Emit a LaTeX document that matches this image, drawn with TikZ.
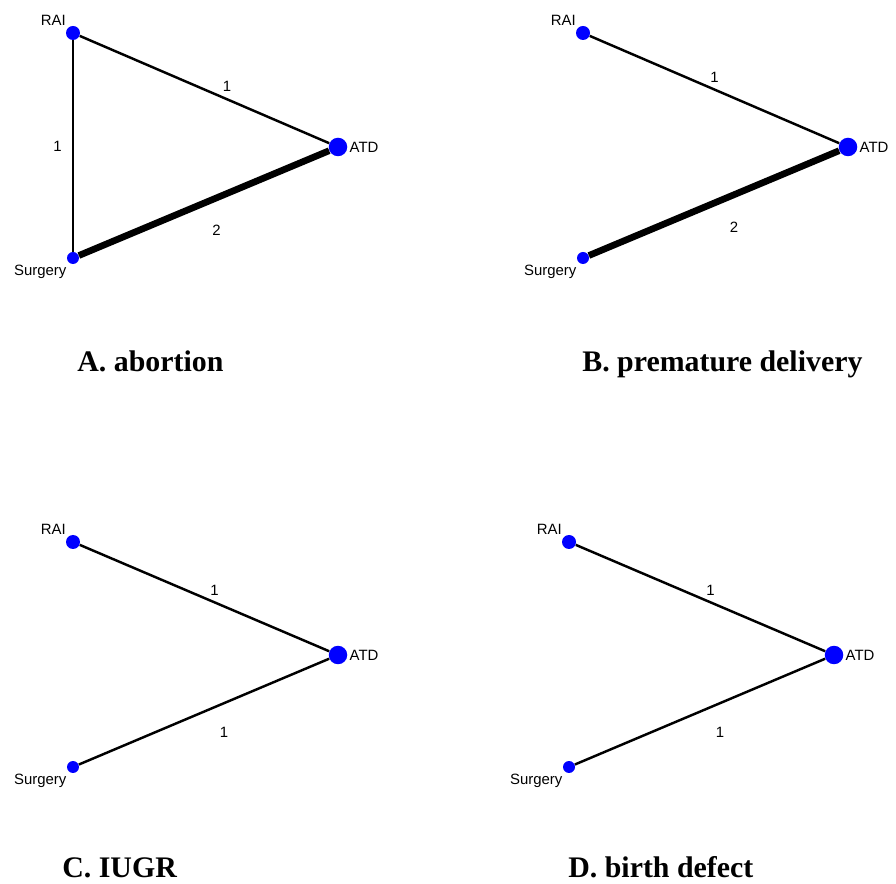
\documentclass[tikz,border=0pt]{standalone}
\usepackage{fontspec}
\setmainfont{Liberation Serif}
\setsansfont{Liberation Sans}
\usetikzlibrary{positioning}

\begin{document}
\begin{tikzpicture}[x=0.02cm,y=-0.02cm,
  dot/.style={circle,fill=blue,inner sep=0pt},
  raidot/.style={dot,minimum size=0.28cm},
  atddot/.style={dot,minimum size=0.37cm},
  surdot/.style={dot,minimum size=0.24cm},
  lbl/.style={font=\sffamily\fontsize{8.5}{10}\selectfont,inner sep=1pt},
  elbl/.style={font=\sffamily\fontsize{8.5}{10}\selectfont,inner sep=0pt},
  onearm/.style={line width=1.4pt},
  twoarm/.style={line width=3.8pt},
  caption/.style={font=\fontsize{17}{20}\selectfont\bfseries,
                  anchor=base west,inner sep=0pt}
]
  \useasboundingbox (0,0) rectangle (896,884);

  % ---- Panel A: abortion ---------------------------------------
  \node[raidot] (raiA) at (73,33) {};
  \node[atddot] (atdA) at (338,147) {};
  \node[surdot] (surA) at (73,258) {};
  \node[lbl,above left=0pt of raiA] (raiAt) {RAI};
  \node[lbl,right=0pt of atdA] (atdAt) {ATD};
  \node[lbl,below left=0pt of surA] (surAt) {Surgery};

  \draw[onearm] (raiA) -- node[elbl,pos=0.59,above=0.12cm] (eA1) {1} (atdA);
  \draw[onearm] (raiA) -- node[elbl,left=0.2cm] (eA2) {1} (surA);
  \draw[twoarm] (surA) -- node[elbl,pos=0.55,below=0.48cm] (eA3) {2} (atdA);

  \node[caption] (capA) at (77,372) {A. abortion};

  % ---- Panel B: premature delivery -----------------------------
  \node[raidot] (raiB) at (583,33) {};
  \node[atddot] (atdB) at (848,147) {};
  \node[surdot] (surB) at (583,258) {};
  \node[lbl,above left=0pt of raiB] (raiBt) {RAI};
  \node[lbl,right=0pt of atdB] (atdBt) {ATD};
  \node[lbl,below left=0pt of surB] (surBt) {Surgery};

  \draw[onearm] (raiB) -- node[elbl,pos=0.5,above=0.12cm] (eB1) {1} (atdB);
  \draw[twoarm] (surB) -- node[elbl,pos=0.58,below=0.48cm] (eB2) {2} (atdB);

  \node[caption] (capB) at (582,372) {B. premature delivery};

  % ---- Panel C: IUGR -------------------------------------------
  \node[raidot] (raiC) at (73,542) {};
  \node[atddot] (atdC) at (338,655) {};
  \node[surdot] (surC) at (73,767) {};
  \node[lbl,above left=0pt of raiC] (raiCt) {RAI};
  \node[lbl,right=0pt of atdC] (atdCt) {ATD};
  \node[lbl,below left=0pt of surC] (surCt) {Surgery};

  \draw[onearm] (raiC) -- node[elbl,pos=0.54,above=0.12cm] (eC1) {1} (atdC);
  \draw[onearm] (surC) -- node[elbl,pos=0.58,below=0.45cm] (eC2) {1} (atdC);

  \node[caption] (capC) at (62,877) {C. IUGR};

  % ---- Panel D: birth defect -----------------------------------
  \node[raidot] (raiD) at (569,542) {};
  \node[atddot] (atdD) at (834,655) {};
  \node[surdot] (surD) at (569,767) {};
  \node[lbl,above left=0pt of raiD] (raiDt) {RAI};
  \node[lbl,right=0pt of atdD] (atdDt) {ATD};
  \node[lbl,below left=0pt of surD] (surDt) {Surgery};

  \draw[onearm] (raiD) -- node[elbl,pos=0.54,above=0.12cm] (eD1) {1} (atdD);
  \draw[onearm] (surD) -- node[elbl,pos=0.58,below=0.45cm] (eD2) {1} (atdD);

  \node[caption] (capD) at (568,877) {D. birth defect};

\end{tikzpicture}
\end{document}
